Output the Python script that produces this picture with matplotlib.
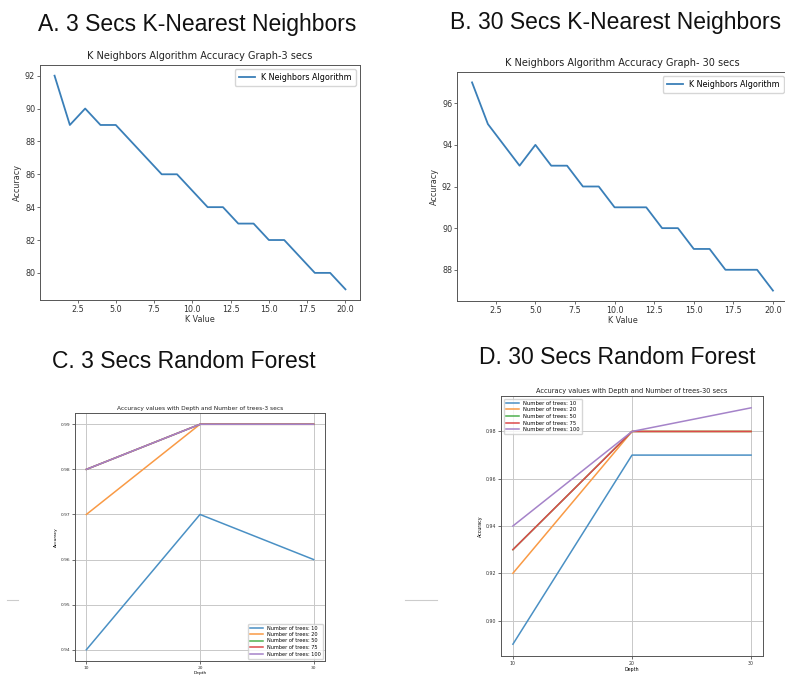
import matplotlib
matplotlib.use("Agg")
import matplotlib.pyplot as plt
from matplotlib.lines import Line2D
from matplotlib.ticker import MultipleLocator

W, H = 785, 675

# K-nearest neighbours accuracy (%) for k = 1..20
k_values = list(range(1, 21))
knn_3s = [92, 89, 90, 89, 89, 88, 87, 86, 86, 85, 84, 84, 83, 83, 82, 82, 81, 80, 80, 79]
knn_30s = [97, 95, 94, 93, 94, 93, 93, 92, 92, 91, 91, 91, 90, 90, 89, 89, 88, 88, 88, 87]

# Random forest accuracy by depth and number of trees
depths = [10, 20, 30]
n_trees = [10, 20, 50, 75, 100]
rf_3s = [
    [0.94, 0.97, 0.96],
    [0.97, 0.99, 0.99],
    [0.98, 0.99, 0.99],
    [0.98, 0.99, 0.99],
    [0.98, 0.99, 0.99],
]
rf_30s = [
    [0.89, 0.97, 0.97],
    [0.92, 0.98, 0.98],
    [0.93, 0.98, 0.98],
    [0.93, 0.98, 0.98],
    [0.94, 0.98, 0.99],
]

headings = ["A. 3 Secs K-Nearest Neighbors", "B. 30 Secs K-Nearest Neighbors",
            "C. 3 Secs Random Forest", "D. 30 Secs Random Forest"]

# slightly washed-out tab10 colours, like the blurred screenshot
rf_colors = ["#4a90c4", "#f99a45", "#4fb04f", "#dc4a4b", "#a583c9"]


def px_rect(left, top, right, bottom):
    # pixel box (from top-left) -> figure fraction rect
    return [left / W, 1 - bottom / H, (right - left) / W, (bottom - top) / H]


def style_axes(ax, tick_size, spine_color="#555555"):
    for sp in ax.spines.values():
        sp.set_color(spine_color)
        sp.set_linewidth(0.7)
    ax.tick_params(labelsize=tick_size, length=2, width=0.5, pad=1.5,
                   colors="#333333")


fig = plt.figure(figsize=(W / 100, H / 100), dpi=100)
fig.patch.set_facecolor("white")

# headings
head_font = dict(fontsize=16.5, family="Liberation Sans", color="#111111",
                 ha="center", va="center")
fig.text(197 / W, 1 - 24 / H, headings[0], **head_font)
fig.text(616 / W, 1 - 23 / H, headings[1], **head_font)
fig.text(184 / W, 1 - 362 / H, headings[2], **head_font)
fig.text(617 / W, 1 - 358 / H, headings[3], **head_font)

# A. KNN 3 secs
ax = fig.add_axes(px_rect(40, 65, 360, 300))
ax.plot(k_values, knn_3s, color="#3a7fb8", lw=1.3, label="K Neighbors Algorithm")
ax.set_title("K Neighbors Algorithm Accuracy Graph-3 secs", fontsize=7, pad=4, color="#222222")
ax.set_xlabel("K Value", fontsize=5.8, labelpad=1, color="#333333")
ax.set_ylabel("Accuracy", fontsize=5.8, labelpad=2, color="#333333")
ax.legend(loc="upper right", fontsize=5.8, handlelength=2, borderpad=0.5)
style_axes(ax, 5.8)

# B. KNN 30 secs
ax = fig.add_axes(px_rect(457, 72, 788, 301))
ax.plot(k_values, knn_30s, color="#3a7fb8", lw=1.3, label="K Neighbors Algorithm")
ax.set_title("K Neighbors Algorithm Accuracy Graph- 30 secs", fontsize=7, pad=4, color="#222222")
ax.set_xlabel("K Value", fontsize=5.8, labelpad=1, color="#333333")
ax.set_ylabel("Accuracy", fontsize=5.8, labelpad=2, color="#333333")
ax.legend(loc="upper right", fontsize=5.8, handlelength=2, borderpad=0.5)
style_axes(ax, 5.8)

# C. Random forest 3 secs
ax = fig.add_axes(px_rect(75, 413, 325, 661))
for n, vals, c in zip(n_trees, rf_3s, rf_colors):
    ax.plot(depths, vals, lw=1.1, color=c, label=f"Number of trees: {n}")
ax.set_title("Accuracy values with Depth and Number of trees-3 secs", fontsize=4.2, pad=2, color="#222222")
ax.set_xlabel("Depth", fontsize=3.2, labelpad=1)
ax.set_ylabel("Accuracy", fontsize=3.2, labelpad=2)
ax.set_xticks(depths)
ax.yaxis.set_major_locator(MultipleLocator(0.01))
ax.grid(True, color="#c8c8c8", lw=0.7)
ax.legend(loc="lower right", fontsize=3.6, handlelength=2.5, labelspacing=0.3)
style_axes(ax, 3.2)

# D. Random forest 30 secs
ax = fig.add_axes(px_rect(501, 396, 763, 656))
for n, vals, c in zip(n_trees, rf_30s, rf_colors):
    ax.plot(depths, vals, lw=1.1, color=c, label=f"Number of trees: {n}")
ax.set_title("Accuracy values with Depth and Number of trees-30 secs", fontsize=4.8, pad=2, color="#222222")
ax.set_xlabel("Depth", fontsize=3.4, labelpad=1)
ax.set_ylabel("Accuracy", fontsize=3.4, labelpad=2)
ax.set_xticks(depths)
ax.yaxis.set_major_locator(MultipleLocator(0.02))
ax.grid(True, color="#c8c8c8", lw=0.7)
ax.legend(loc="upper left", fontsize=3.8, handlelength=2.5, labelspacing=0.3)
style_axes(ax, 3.4)

# small stray rules left of the lower panels
for x0, x1 in [(7, 18), (405, 437)]:
    fig.add_artist(Line2D([x0 / W, x1 / W], [1 - 600 / H, 1 - 600 / H],
                          color="#cccccc", lw=0.8, transform=fig.transFigure))

fig.savefig("out.png", dpi=100, facecolor="white")
